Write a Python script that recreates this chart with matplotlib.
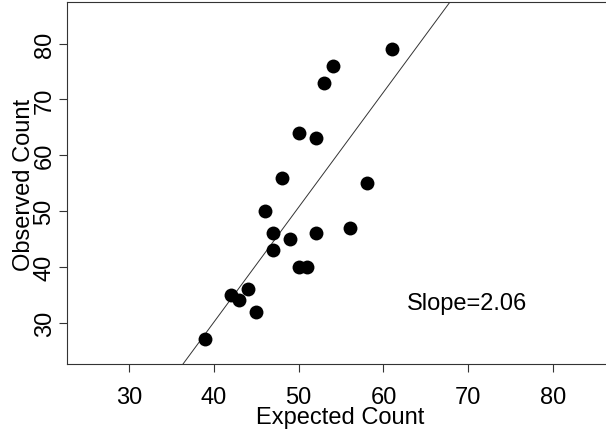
import matplotlib
matplotlib.use("Agg")
import matplotlib.pyplot as plt
import numpy as np

plt.rcParams["font.family"] = ["Liberation Sans", "DejaVu Sans"]

# data
expected = [39, 42, 43, 44, 45, 46, 47, 47, 48, 49, 50, 51, 50, 52, 52, 53, 54, 56, 58, 61]
observed = [27, 35, 34, 36, 32, 50, 46, 43, 56, 45, 40, 40, 64, 63, 46, 73, 76, 47, 55, 79]
slope = 2.06
intercept = -52.3
xticks = [30, 40, 50, 60, 70, 80]
yticks = [30, 40, 50, 60, 70, 80]

W, H = 606, 439
fig = plt.figure(figsize=(W/100, H/100), dpi=100)
ax = fig.add_axes([66.7/W, 74/H, (607 - 66.7)/W, (365 - 3.3)/H])

ax.scatter(expected, observed, s=100, color="black", linewidths=0, zorder=3)

xs = np.array([0, 100])
ax.plot(xs, slope*xs + intercept, color="#333333", linewidth=0.7)

ax.text(69.9, 32.5, "Slope=2.06", fontsize=17, ha="center", va="baseline")

ax.set_xlim(22.64, 86.36)
ax.set_ylim(22.6, 87.4)
ax.set_xticks(xticks)
ax.set_yticks(yticks)
ax.set_yticklabels([str(v) for v in yticks], rotation=90, va="center")
ax.tick_params(labelsize=17, length=6, width=0.8, color="#333333")
ax.tick_params(axis="x", pad=9.5)
ax.tick_params(axis="y", pad=2)

ax.set_xlabel("Expected Count", fontsize=17)
ax.set_ylabel("Observed Count", fontsize=17)
ax.xaxis.set_label_coords(340/W, (H - 407)/H, transform=fig.transFigure)
ax.yaxis.set_label_coords(35/W, (H - 185)/H, transform=fig.transFigure)

ax.spines["right"].set_visible(False)
for s in ["left", "bottom", "top"]:
    ax.spines[s].set_linewidth(0.8)
    ax.spines[s].set_color("#333333")

fig.savefig("out.png", dpi=100)
